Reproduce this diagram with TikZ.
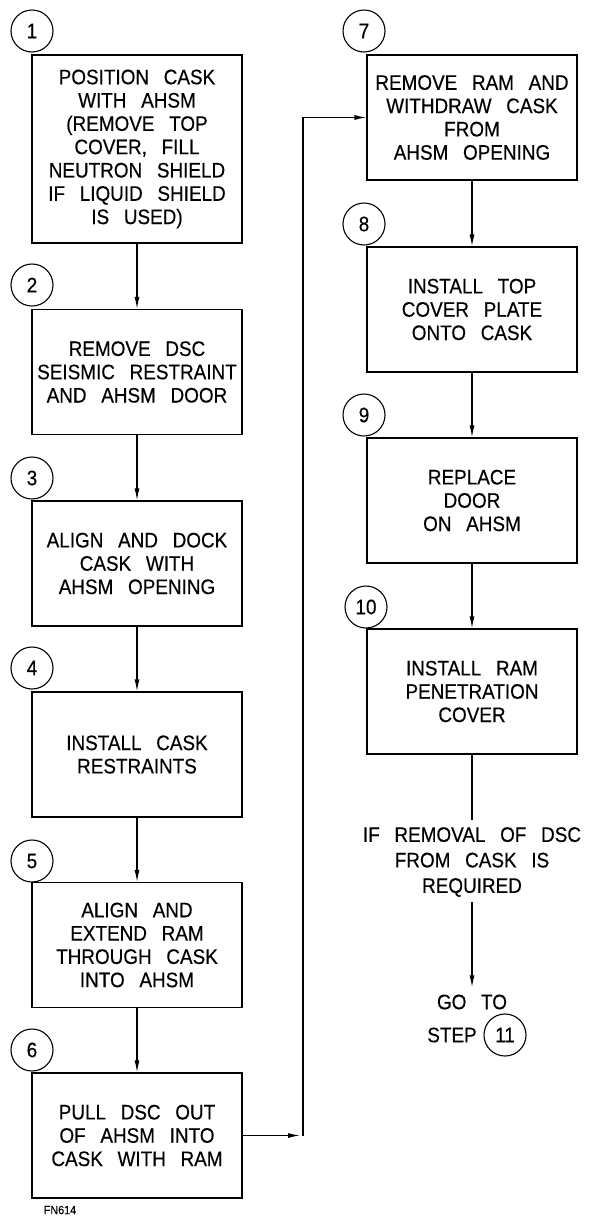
\documentclass[tikz,border=0pt]{standalone}
\usepackage{fontspec}
\setmainfont[WordSpace=2.8, FakeStretch=0.9, FakeBold=0.4]{Liberation Sans}
\usepackage{tikz}
\usetikzlibrary{arrows.meta}

\begin{document}
\begin{tikzpicture}[
    x=1pt, y=-1pt,
    % Style pour les boîtes des étapes
    etape/.style={draw=black, line width=1.2pt, minimum width=210pt, minimum height=125pt,
        inner sep=0pt, align=center, font=\fontsize{21}{23.3}\selectfont},
    % Style pour les numéros d'étape (cercles)
    numero/.style={circle, draw=black, line width=1.1pt, minimum size=42pt, inner sep=0pt,
        font=\fontsize{21}{21}\selectfont},
    % Style pour le texte libre (sans bordure)
    texte/.style={draw=none, inner sep=0pt, align=center, font=\fontsize{21}{25.5}\selectfont},
    % Style pour les flèches de liaison
    fleche/.style={draw, line width=1.2pt, -{Latex[length=12pt, width=5pt]}}
]
\useasboundingbox (0,0) rectangle (589,1216);

% Colonne de gauche
\node[etape, minimum height=188pt] (b1) at (137,149) {POSITION CASK\\WITH AHSM\\(REMOVE TOP\\COVER, FILL\\NEUTRON SHIELD\\IF LIQUID SHIELD\\IS USED)};
\node[etape] (b2) at (137,372) {REMOVE DSC\\SEISMIC RESTRAINT\\AND AHSM DOOR};
\node[etape] (b3) at (137,563.5) {ALIGN AND DOCK\\CASK WITH\\AHSM OPENING};
\node[etape] (b4) at (137,754.5) {INSTALL CASK\\RESTRAINTS};
\node[etape] (b5) at (137,945) {ALIGN AND\\EXTEND RAM\\THROUGH CASK\\INTO AHSM};
\node[etape] (b6) at (137,1135.5) {PULL DSC OUT\\OF AHSM INTO\\CASK WITH RAM};

% Colonne de droite
\node[etape] (b7) at (472,117.5) {REMOVE RAM AND\\WITHDRAW CASK\\FROM\\AHSM OPENING};
\node[etape] (b8) at (472,309.5) {INSTALL TOP\\COVER PLATE\\ONTO CASK};
\node[etape] (b9) at (472,500.5) {REPLACE\\DOOR\\ON AHSM};
\node[etape] (b10) at (472,691.5) {INSTALL RAM\\PENETRATION\\COVER};

% Numéros
\node[numero] (n1) at (32,31) {1};
\node[numero] (n2) at (32,285) {2};
\node[numero] (n3) at (32,478) {3};
\node[numero] (n4) at (32,668) {4};
\node[numero] (n5) at (32,861) {5};
\node[numero] (n6) at (32,1050) {6};
\node[numero] (n7) at (364,31) {7};
\node[numero] (n8) at (364,224) {8};
\node[numero] (n9) at (364,415) {9};
\node[numero] (n10) at (366,607) {10};

% Condition finale
\coordinate (fin) at (472,820);
\node[texte] (cond) at (472,862) {IF REMOVAL OF DSC\\FROM CASK IS\\REQUIRED};
\node[texte] (goto) at (472,1002) {GO TO};
\node[texte] (step) at (452,1035) {STEP};
\node[numero] (n11) at (505,1035) {11};

% Repère de la figure
\node[texte, font=\fontsize{12}{12}\selectfont] (ref) at (60,1210) {FN614};

% Liaisons
\draw[fleche] (b1) -- (b2);
\draw[fleche] (b2) -- (b3);
\draw[fleche] (b3) -- (b4);
\draw[fleche] (b4) -- (b5);
\draw[fleche] (b5) -- (b6);
\coordinate (coin) at (303,1135.5);
\draw[fleche] (b6.east) -- ([xshift=-3pt]coin);
\draw[fleche] (coin) |- (b7.west);
\draw[fleche] (b7) -- (b8);
\draw[fleche] (b8) -- (b9);
\draw[fleche] (b9) -- (b10);
\draw[line width=1.2pt] (b10.south) -- (fin);
\draw[fleche, shorten <=5pt, shorten >=7pt] (cond.south) -- (goto.north);

\end{tikzpicture}
\end{document}
